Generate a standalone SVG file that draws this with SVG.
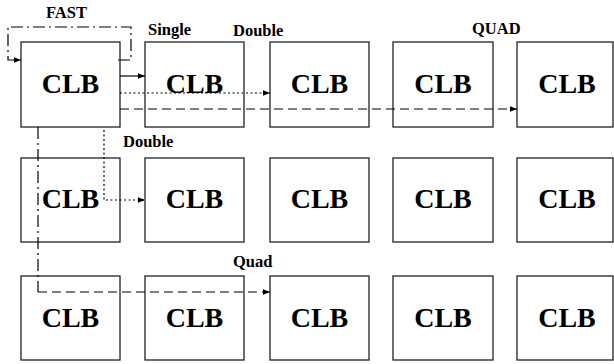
<svg xmlns="http://www.w3.org/2000/svg" width="614" height="364" viewBox="0 0 614 364">
<style>
.box{fill:#fff;stroke:#222;stroke-width:1.3}
.clb{font-family:'Liberation Serif','Times New Roman',Times,'DejaVu Serif',serif;font-weight:bold;font-size:28px;text-anchor:middle;fill:#000}
.lbl{font-family:'Liberation Serif','Times New Roman',Times,'DejaVu Serif',serif;font-weight:bold;font-size:16.5px;fill:#000}
.ln{fill:none;stroke:#000;stroke-width:1.2}
.dot{stroke-dasharray:2 2.5}
.dash{stroke-dasharray:9 5}
.dashdot{stroke-dasharray:12 4 2 4}
</style>
<defs>
<marker id="ah" viewBox="0 0 10 10" refX="10" refY="5" markerWidth="7" markerHeight="7" markerUnits="userSpaceOnUse" orient="auto">
<path d="M0,1 L10,5 L0,9 Z" fill="#000"/>
</marker>
</defs>
<rect width="614" height="364" fill="#fff"/>
<g id="n11"><rect class="box" x="21" y="42" width="99" height="85"/><text class="clb" x="70.5" y="93">CLB</text></g>
<g id="n12"><rect class="box" x="145" y="42" width="99" height="85"/><text class="clb" x="194.5" y="93">CLB</text></g>
<g id="n13"><rect class="box" x="270" y="42" width="99" height="85"/><text class="clb" x="319.5" y="93">CLB</text></g>
<g id="n14"><rect class="box" x="393" y="42" width="100" height="85"/><text class="clb" x="443" y="93">CLB</text></g>
<g id="n15"><rect class="box" x="517" y="42" width="96" height="85"/><text class="clb" x="567" y="93">CLB</text></g>
<g id="n21"><rect class="box" x="21" y="158" width="99" height="84"/><text class="clb" x="70.5" y="208">CLB</text></g>
<g id="n22"><rect class="box" x="145" y="158" width="99" height="84"/><text class="clb" x="194.5" y="208">CLB</text></g>
<g id="n23"><rect class="box" x="270" y="158" width="99" height="84"/><text class="clb" x="319.5" y="208">CLB</text></g>
<g id="n24"><rect class="box" x="393" y="158" width="100" height="84"/><text class="clb" x="443" y="208">CLB</text></g>
<g id="n25"><rect class="box" x="517" y="158" width="96" height="84"/><text class="clb" x="567" y="208">CLB</text></g>
<g id="n31"><rect class="box" x="21" y="276" width="99" height="84"/><text class="clb" x="70.5" y="327">CLB</text></g>
<g id="n32"><rect class="box" x="145" y="276" width="99" height="84"/><text class="clb" x="194.5" y="327">CLB</text></g>
<g id="n33"><rect class="box" x="270" y="276" width="99" height="84"/><text class="clb" x="319.5" y="327">CLB</text></g>
<g id="n34"><rect class="box" x="393" y="276" width="100" height="84"/><text class="clb" x="443" y="327">CLB</text></g>
<g id="n35"><rect class="box" x="517" y="276" width="96" height="84"/><text class="clb" x="567" y="327">CLB</text></g>
<g id="connectors">
<path class="ln dashdot" d="M118,60 H131 V27 H8 V60 H21" marker-end="url(#ah)"/>
<path class="ln" d="M120,76 H145" marker-end="url(#ah)"/>
<path class="ln dot" d="M120,93 H270" marker-end="url(#ah)"/>
<path class="ln dash" d="M120,109 H517" marker-end="url(#ah)"/>
<path class="ln dot" d="M104,130 V200 H145" marker-end="url(#ah)"/>
<path class="ln dashdot" d="M38,127 V292"/>
<path class="ln dash" d="M38,292 H270" marker-end="url(#ah)"/>
</g>
<g id="labels">
<text class="lbl" x="46" y="18">FAST</text>
<text class="lbl" x="148" y="35">Single</text>
<text class="lbl" x="233" y="36">Double</text>
<text class="lbl" x="472" y="34">QUAD</text>
<text class="lbl" x="123" y="147">Double</text>
<text class="lbl" x="233" y="267">Quad</text>
</g>
</svg>
